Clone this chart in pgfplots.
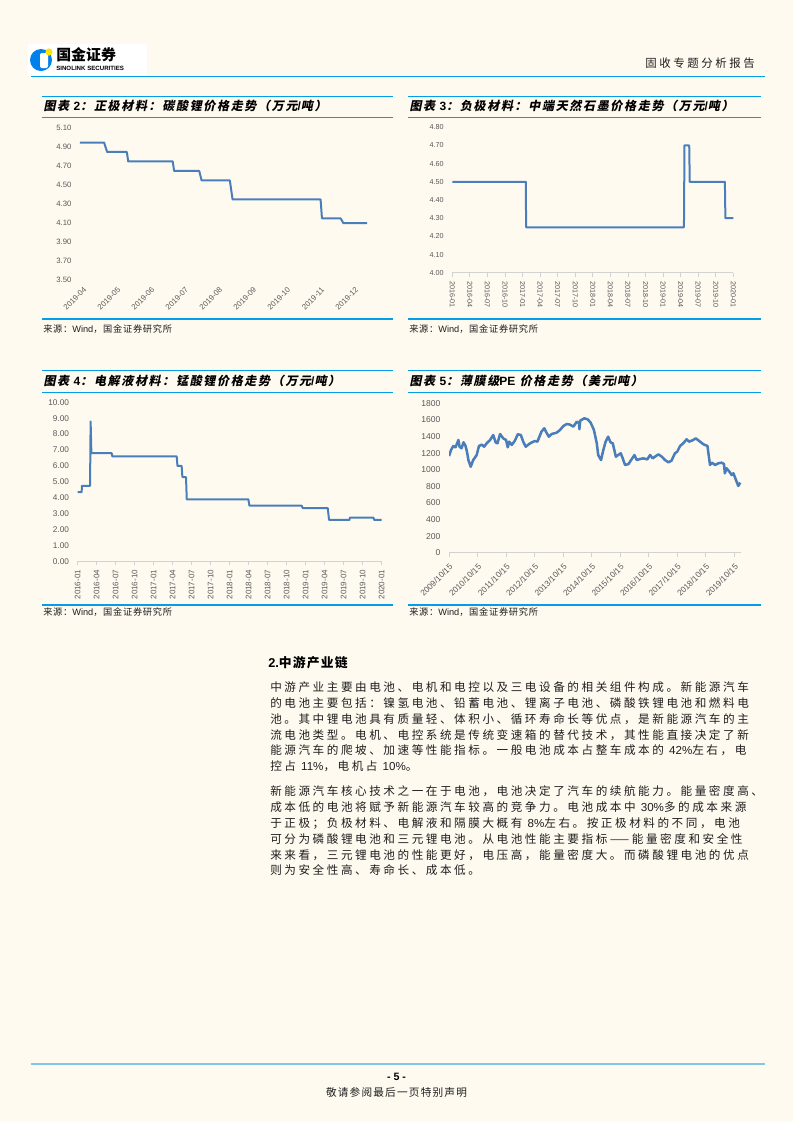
\documentclass[border=0pt]{standalone}
\usepackage{pgfplots}
\pgfplotsset{compat=1.18}
\usepackage{fontspec}
\setmainfont{Liberation Sans}
\newfontfamily\cjk{Noto Sans CJK SC}
\newfontfamily\cjkit[FakeSlant=0.2]{Noto Sans CJK SC}
\newcommand\lt[1]{{\rmfamily #1}}

\definecolor{bg}{RGB}{255,250,240}
\definecolor{ser}{RGB}{74,126,187}
\definecolor{rule}{RGB}{0,160,233}
\definecolor{foot}{RGB}{125,200,230}
\definecolor{axgray}{RGB}{210,210,210}
\definecolor{tickc}{RGB}{89,89,89}
\definecolor{txt}{RGB}{30,30,30}

\pgfplotsset{
  base/.style={scale only axis, anchor=south west,
    /pgf/number format/assume math mode=true,
    ticklabel style={text=tickc},
    ytick style={draw=none},
  },
  botaxis/.style={axis lines*=left, y axis line style={draw=none},
    x axis line style={draw=axgray, line width=0.6pt},
    xtick style={draw=axgray, line width=0.6pt}, tick align=outside, major tick length=3pt},
  ln/.style={color=ser, line width=1.5pt, line join=round, mark=none},
}

\newcommand\para[2]{\node[anchor=west, inner sep=0, text=txt] at (270,#1)
  {\cjk\fontsize{8.7}{10}\selectfont\addfontfeatures{LetterSpace=22}#2};}
\newcommand\ttl[3]{\node[anchor=west, inner sep=0] at (#1,#2)
  {\cjkit\bfseries\fontsize{9}{10}\selectfont\addfontfeatures{LetterSpace=14}#3};}

\begin{document}
\begin{tikzpicture}[x=0.75pt, y=-0.75pt]
\fill[bg] (0,0) rectangle (793,1122);
\useasboundingbox (0,0) rectangle (793,1122);

% header
\fill[white] (28,44) rectangle (147,76);
\fill[rule!80!blue] (41,60) circle (11);
\fill[white, rounded corners=1.5] (40,53) rectangle (48,68);
\fill[yellow!85!orange] (49,52) circle (3.6);
\node[anchor=west, inner sep=0] at (56,55) {\cjk\bfseries\fontsize{11.2}{13}\selectfont 国金证券};
\node[anchor=west, inner sep=0] at (56,68.5) {\bfseries\fontsize{4.6}{5}\selectfont SINOLINK SECURITIES};
\node[anchor=east, inner sep=0, text=txt] at (755,63) {\cjk\fontsize{8.6}{10}\selectfont\addfontfeatures{LetterSpace=22}固收专题分析报告};
\draw[rule, line width=1.2pt] (31,76.5) -- (765,76.5);

% chart frames
\foreach \xa/\xb in {42/393, 408/761}{
  \draw[rule, line width=0.7pt] (\xa,96) -- (\xb,96);
  \draw[rule, line width=0.7pt] (\xa,117.3) -- (\xb,117.3);
  \draw[rule, line width=1.4pt] (\xa,319.3) -- (\xb,319.3);
  \draw[rule, line width=0.7pt] (\xa,370) -- (\xb,370);
  \draw[rule, line width=0.7pt] (\xa,392.3) -- (\xb,392.3);
  \draw[rule, line width=1.4pt] (\xa,605) -- (\xb,605);
}
\ttl{43.3}{105.5}{图表 \lt{2}：正极材料：碳酸锂价格走势（万元\lt{/}吨）}
\ttl{409.3}{105.5}{图表 \lt{3}：负极材料：中端天然石墨价格走势（万元\lt{/}吨）}
\ttl{43.3}{380.5}{图表 \lt{4}：电解液材料：锰酸锂价格走势（万元\lt{/}吨）}
\ttl{409.3}{380.5}{图表 \lt{5}：薄膜级\lt{PE} 价格走势（美元\lt{/}吨）}
\foreach \sx/\sy in {43/328.8, 409/328.8, 43/612.5, 409/612.5}{
  \node[anchor=west, inner sep=0, text=txt] at (\sx,\sy) {\cjk\fontsize{6.9}{8}\selectfont\addfontfeatures{LetterSpace=8}来源：\lt{Wind}，国金证券研究所};
}

% chart 2
\begin{axis}[base, at={(57.15pt,-210pt)}, width=221.8pt, height=113.8pt,
  xmin=-0.2, xmax=8.5, ymin=3.5, ymax=5.1,
  axis line style={draw=none}, xtick style={draw=none},
  ytick={3.5,3.7,3.9,4.1,4.3,4.5,4.7,4.9,5.1},
  yticklabel style={font=\fontsize{5.8}{6}\selectfont, /pgf/number format/.cd, fixed, fixed zerofill, precision=2},
  xtick={0,...,8},
  xticklabels={2019-04,2019-05,2019-06,2019-07,2019-08,2019-09,2019-10,2019-11,2019-12},
  xticklabel style={font=\fontsize{5.8}{6}\selectfont, rotate=45, anchor=north east},
  ]
\addplot[ln] coordinates {(-0.09,4.95) (0.62,4.95) (0.71,4.85) (1.29,4.85) (1.33,4.75) (2.64,4.75)
  (2.68,4.65) (3.42,4.65) (3.49,4.55) (4.32,4.55) (4.40,4.35) (6.99,4.35) (7.03,4.15)
  (7.58,4.15) (7.66,4.10) (8.36,4.10)};
\end{axis}

% chart 3
\begin{axis}[base, botaxis, at={(339.225pt,-204.525pt)}, width=210.75pt, height=109.05pt,
  xmin=0, xmax=16, ymin=4, ymax=4.8,
  ytick={4.0,4.1,4.2,4.3,4.4,4.5,4.6,4.7,4.8},
  yticklabel style={font=\fontsize{5.4}{6}\selectfont, /pgf/number format/.cd, fixed, fixed zerofill, precision=2},
  xtick={0,...,16},
  xticklabels={2016-01,2016-04,2016-07,2016-10,2017-01,2017-04,2017-07,2017-10,2018-01,2018-04,2018-07,2018-10,2019-01,2019-04,2019-07,2019-10,2020-01},
  xticklabel style={font=\fontsize{5.4}{6}\selectfont, rotate=-90, anchor=west},
  ]
\addplot[ln] coordinates {(0,4.5) (4.19,4.5) (4.20,4.25) (13.19,4.25) (13.22,4.70) (13.49,4.70)
  (13.52,4.50) (15.52,4.50) (15.55,4.30) (16,4.30)};
\end{axis}

% chart 4
\begin{axis}[base, botaxis, at={(58.275pt,-420.975pt)}, width=228pt, height=119.25pt,
  xmin=0, xmax=16, ymin=0, ymax=10,
  ytick={0,1,...,10},
  yticklabel style={font=\fontsize{6.2}{7}\selectfont, /pgf/number format/.cd, fixed, fixed zerofill, precision=2},
  xtick={0,...,16},
  xticklabels={2016-01,2016-04,2016-07,2016-10,2017-01,2017-04,2017-07,2017-10,2018-01,2018-04,2018-07,2018-10,2019-01,2019-04,2019-07,2019-10,2020-01},
  xticklabel style={font=\fontsize{6}{7}\selectfont, rotate=90, anchor=east},
  ]
\addplot[ln] coordinates {(0,4.35) (0.21,4.35) (0.22,4.75) (0.65,4.75) (0.68,8.8) (0.72,6.8)
  (1.79,6.8) (1.82,6.6) (5.21,6.6) (5.25,6.0) (5.47,6.0) (5.51,5.3) (5.70,5.3) (5.74,3.9)
  (8.98,3.9) (9.04,3.5) (11.79,3.5) (11.84,3.35) (13.16,3.35) (13.23,2.6) (14.30,2.6)
  (14.33,2.75) (15.56,2.75) (15.61,2.6) (16.0,2.6)};
\end{axis}

% chart 5
\begin{axis}[base, botaxis, at={(336.75pt,-414.525pt)}, width=219.3pt, height=112.05pt,
  xmin=0, xmax=10.25, ymin=0, ymax=1800,
  ytick={0,200,...,1800},
  yticklabel style={font=\fontsize{6.4}{7}\selectfont, /pgf/number format/1000 sep={}},
  xtick={0,...,10},
  xticklabels={2009/10/15,2010/10/15,2011/10/15,2012/10/15,2013/10/15,2014/10/15,2015/10/15,2016/10/15,2017/10/15,2018/10/15,2019/10/15},
  xticklabel style={font=\fontsize{6.2}{7}\selectfont, rotate=45, anchor=north east},
  ]
\addplot[ln, line width=1.9pt] coordinates {
  (0,1165) (0.07,1237) (0.15,1286) (0.23,1270) (0.33,1358) (0.37,1277) (0.44,1258)
  (0.51,1330) (0.58,1286) (0.63,1217) (0.68,1117) (0.76,1036) (0.85,1117) (0.97,1177)
  (1.05,1286) (1.15,1302) (1.23,1277) (1.32,1318) (1.44,1358) (1.55,1418) (1.64,1326)
  (1.70,1318) (1.79,1430) (1.90,1378) (2.00,1358) (2.06,1270) (2.11,1338) (2.20,1298)
  (2.31,1350) (2.41,1427) (2.52,1418) (2.60,1338) (2.69,1277) (2.84,1318) (3.01,1346)
  (3.10,1338) (3.24,1458) (3.34,1499) (3.43,1438) (3.50,1398) (3.60,1430) (3.77,1446)
  (3.89,1478) (4.01,1527) (4.13,1551) (4.24,1543) (4.36,1519) (4.48,1579) (4.56,1560)
  (4.57,1487) (4.60,1591) (4.74,1619) (4.86,1607) (4.96,1570) (5.08,1479) (5.18,1318)
  (5.23,1177) (5.33,1117) (5.41,1237) (5.49,1338) (5.58,1398) (5.66,1330) (5.74,1318)
  (5.85,1157) (5.93,1177) (6.02,1198) (6.09,1137) (6.17,1057) (6.29,1068) (6.40,1125)
  (6.50,1177) (6.58,1117) (6.70,1129) (6.81,1137) (6.95,1125) (7.05,1177) (7.14,1137)
  (7.22,1157) (7.34,1185) (7.46,1157) (7.57,1117) (7.69,1089) (7.80,1109) (7.92,1198)
  (8.00,1217) (8.10,1286) (8.21,1318) (8.33,1366) (8.42,1338) (8.56,1358) (8.65,1378)
  (8.80,1338) (8.92,1306) (9.06,1286) (9.11,1157) (9.15,1057) (9.21,1085) (9.33,1057)
  (9.44,1077) (9.56,1085) (9.64,1068) (9.67,957) (9.73,1017) (9.83,976) (9.91,936)
  (9.97,957) (10.06,876) (10.14,804) (10.21,844)};
\end{axis}

% body text
\node[anchor=west, inner sep=0, text=black] at (268,663) {\cjk\bfseries\fontsize{9.6}{11}\selectfont\addfontfeatures{LetterSpace=9}\lt{2.}中游产业链};
\para{687.5}{中游产业主要由电池、电机和电控以及三电设备的相关组件构成。新能源汽车}
\para{703.3}{的电池主要包括：镍氢电池、铅蓄电池、锂离子电池、磷酸铁锂电池和燃料电}
\para{719.1}{池。其中锂电池具有质量轻、体积小、循环寿命长等优点，是新能源汽车的主}
\para{734.9}{流电池类型。电机、电控系统是传统变速箱的替代技术，其性能直接决定了新}
\para{750.7}{能源汽车的爬坡、加速等性能指标。一般电池成本占整车成本的 \lt{42\%}左右，电}
\para{766.5}{控占 \lt{11\%}，电机占 \lt{10\%}。}
\para{791.5}{新能源汽车核心技术之一在于电池，电池决定了汽车的续航能力。能量密度高、}
\para{807.3}{成本低的电池将赋予新能源汽车较高的竞争力。电池成本中 \lt{30\%}多的成本来源}
\para{823.1}{于正极；负极材料、电解液和隔膜大概有 \lt{8\%}左右。按正极材料的不同，电池}
\para{838.9}{可分为磷酸锂电池和三元锂电池。从电池性能主要指标——能量密度和安全性}
\para{854.7}{来来看，三元锂电池的性能更好，电压高，能量密度大。而磷酸锂电池的优点}
\para{870.5}{则为安全性高、寿命长、成本低。}

% footer
\draw[foot, line width=1.6pt] (31,1064.3) -- (765,1064.3);
\node[inner sep=0] at (396.5,1077) {\bfseries\fontsize{8}{9}\selectfont - 5 -};
\node[inner sep=0, text=txt] at (396.5,1092.5) {\cjk\fontsize{8}{9}\selectfont\addfontfeatures{LetterSpace=11}敬请参阅最后一页特别声明};
\end{tikzpicture}
\end{document}
